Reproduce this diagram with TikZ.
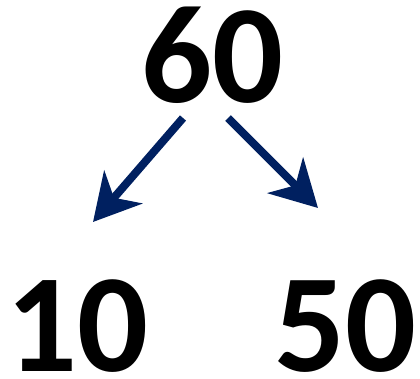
\documentclass[tikz,border=0pt]{standalone}
\usepackage{fontspec}
\setmainfont{Carlito}
\definecolor{splitnavy}{RGB}{0, 32, 96}
\usetikzlibrary{arrows.meta}

\begin{document}
\begin{tikzpicture}[x=1pt, y=1pt,
                    num/.style={font=\fontsize{140}{142}\selectfont\bfseries, inner sep=0pt, anchor=base},
                    split/.style={-{Stealth[length=46pt, width=50pt, inset=14pt]}, splitnavy, line width=8pt}]
                    \useasboundingbox (0, 0) rectangle (420, 378);
                    \node[num] (whole) at (212, 275) {60};
                    \node[num] (partA) at (77, 7) {10};
                    \node[num] (partB) at (345, 7) {50};
                    \coordinate (fromA) at (183, 260);
                    \coordinate (toA) at (93, 156);
                    \coordinate (fromB) at (228, 260);
                    \coordinate (toB) at (318, 170);
                    \draw[split] (fromA) -- (toA);
                    \draw[split] (fromB) -- (toB);
                \end{tikzpicture}
\end{document}
